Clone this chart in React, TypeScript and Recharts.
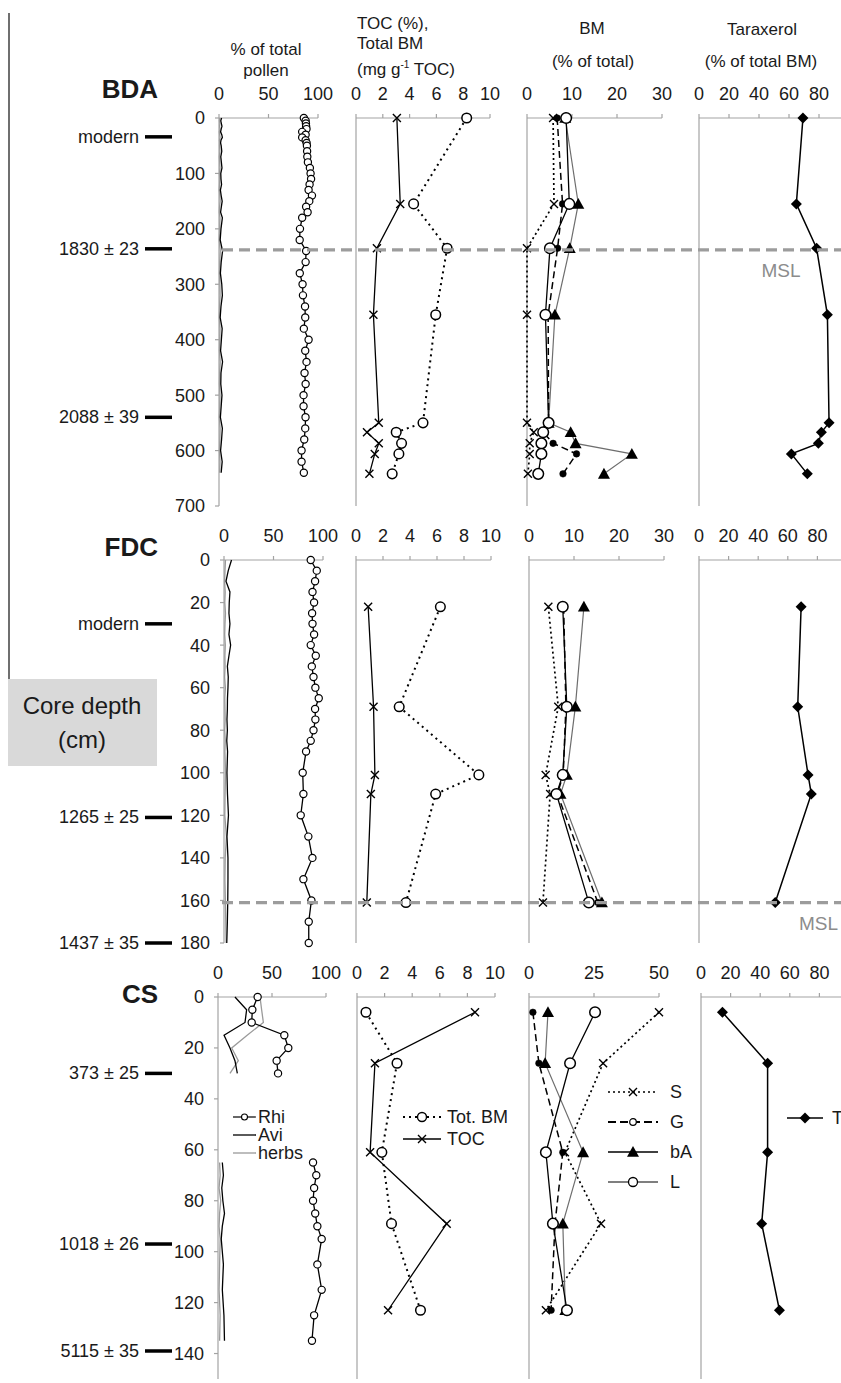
import React from 'react';
import { ScatterChart, Scatter, XAxis, YAxis, ReferenceLine } from 'recharts';

const FONT = '"Liberation Sans", Arial, Helvetica, sans-serif';
const AXIS = '#a3a3a3';
const INK = '#1a1a1a';

// ---------------- BDA ----------------
const BDA_POLLEN_DEPTH = [0, 5, 10, 15, 20, 25, 30, 35, 40, 45, 50, 60, 70, 80, 90, 100, 110, 120, 130, 140, 150, 160, 170, 180, 200, 220, 240, 260, 280, 300, 320, 340, 360, 380, 400, 420, 440, 460, 480, 500, 520, 540, 560, 580, 600, 620, 640];
const BDA_RHI = [85.7, 87.5, 87.8, 88.0, 88.4, 84.0, 87.5, 84.0, 87.5, 88.5, 88.8, 89.0, 89.2, 89.8, 91.8, 92.5, 93.0, 91.5, 90.5, 93.9, 91.2, 88.0, 89.5, 84.0, 81.8, 81.5, 88.0, 87.5, 81.6, 84.4, 84.8, 86.9, 87.1, 85.7, 90.5, 87.1, 88.4, 86.4, 87.5, 85.4, 85.4, 87.4, 87.1, 86.1, 83.4, 83.4, 85.7];
const BDA_AVI = [2.6, 1.8, 2.4, 3.0, 2.2, 1.6, 2.8, 3.4, 2.0, 1.6, 2.2, 2.8, 1.8, 2.4, 3.0, 1.8, 2.0, 2.6, 1.4, 2.2, 3.2, 2.4, 1.6, 3.4, 2.0, 1.2, 3.6, 2.2, 1.4, 2.8, 3.4, 2.0, 1.2, 3.2, 2.4, 1.6, 3.6, 2.0, 1.8, 3.0, 2.2, 1.4, 3.4, 2.6, 1.6, 3.2, 2.2];
const BDA_HERBS = [0.8, 0.5, 0.9, 0.6, 1.0, 0.4, 0.7, 1.1, 0.5, 0.8, 0.6, 0.9, 0.4, 0.7, 1.0, 0.5, 0.8, 0.6, 0.3, 0.9, 1.2, 0.6, 0.4, 1.0, 0.7, 0.3, 1.3, 0.8, 0.5, 0.9, 1.1, 0.6, 0.4, 1.0, 0.8, 0.5, 1.2, 0.7, 0.5, 1.0, 0.8, 0.4, 1.1, 0.9, 0.5, 1.0, 0.7];
const BDA_GEO_DEPTH = [0, 155, 235, 355, 550, 567, 587, 606, 642];
const BDA_TOC = [3.05, 3.3, 1.56, 1.3, 1.7, 0.82, 1.7, 1.4, 1.0];
const BDA_TOTBM = [8.26, 4.3, 6.8, 5.95, 5.0, 3.0, 3.4, 3.2, 2.7];
const BDA_S = [5.8, 6.0, 0, 0, 0, 1.5, 0.6, 0.6, 0.2];
const BDA_G = [6.7, 7.9, 6.8, 4.7, 4.8, 3.6, 5.8, 11.0, 8.0];
const BDA_BA = [8.5, 11.4, 9.5, 6.2, 4.8, 9.7, 10.8, 23.3, 17.1];
const BDA_L = [8.7, 9.4, 5.1, 4.1, 4.8, 3.6, 3.2, 3.2, 2.5];
const BDA_TARAX = [69.3, 64.9, 78.4, 85.6, 86.7, 81.6, 79.6, 61.6, 72.2];
const BDA_DATE_DEPTH = [34, 236, 540];
const BDA_DATE_LABEL = ['modern', '1830 ± 23', '2088 ± 39'];
const BDA_MSL = 238;
const BDA_DEPTH_TICKS = [0, 100, 200, 300, 400, 500, 600, 700];

// ---------------- FDC ----------------
const FDC_POLLEN_DEPTH = [0, 5, 10, 15, 20, 25, 30, 35, 40, 45, 50, 55, 60, 65, 70, 75, 80, 85, 90, 100, 110, 120, 130, 140, 150, 160, 170, 180];
const FDC_RHI = [87.6, 93.7, 92.0, 89.4, 91.0, 89.0, 89.4, 91.0, 87.6, 92.7, 88.7, 90.4, 92.3, 95.7, 92.0, 92.3, 90.4, 87.6, 82.9, 79.5, 80.2, 77.5, 85.2, 89.3, 80.2, 88.3, 85.6, 85.6];
const FDC_AVI = [7.6, 4.3, 2.0, 6.0, 5.3, 5.0, 6.0, 5.0, 6.7, 5.0, 3.4, 4.3, 4.0, 3.5, 3.4, 3.0, 3.4, 2.8, 3.6, 3.0, 3.5, 4.5, 3.0, 4.0, 4.0, 3.8, 3.4, 2.8];
const FDC_HERBS = [1.5, 1.0, 0.6, 1.2, 0.8, 1.5, 1.0, 0.7, 1.3, 0.9, 1.1, 0.6, 1.4, 0.8, 1.0, 1.2, 0.7, 1.3, 0.9, 1.6, 1.1, 0.8, 2.5, 1.2, 0.9, 1.4, 1.8, 2.2];
const FDC_GEO_DEPTH = [22, 69, 101, 110, 161];
const FDC_TOC = [0.9, 1.3, 1.4, 1.1, 0.8];
const FDC_TOTBM = [6.25, 3.2, 9.1, 5.9, 3.7];
const FDC_S = [4.3, 6.5, 3.7, 4.7, 3.1];
const FDC_G = [7.7, 8.2, 7.6, 6.3, 15.3];
const FDC_BA = [12.2, 10.3, 8.4, 7.0, 16.2];
const FDC_L = [7.5, 8.4, 7.5, 6.1, 13.3];
const FDC_TARAX = [69.0, 66.7, 73.7, 75.9, 51.5];
const FDC_DATE_DEPTH = [30, 121, 180];
const FDC_DATE_LABEL = ['modern', '1265 ± 25', '1437 ± 35'];
const FDC_MSL = 161;
const FDC_DEPTH_TICKS = [0, 20, 40, 60, 80, 100, 120, 140, 160, 180];

// ---------------- CS ----------------
const CS_POLLEN_DEPTH_UP = [0, 5, 10, 15, 20, 25, 30];
const CS_RHI_UP = [36.7, 31.8, 31.2, 61.4, 65.1, 54.3, 55.6];
const CS_AVI_UP = [15.7, 26.5, 25.0, 5.6, 11.1, 15.7, 17.9];
const CS_HERBS_UP = [38.9, 40.4, 42.0, 27.0, 12.7, 18.8, 11.1];
const CS_POLLEN_DEPTH_LOW = [65, 70, 75, 80, 85, 90, 95, 105, 115, 125, 135];
const CS_RHI_LOW = [88, 91, 89, 88, 90, 92, 96, 92, 96, 89, 87];
const CS_AVI_LOW = [4.0, 5.0, 3.5, 4.5, 6.0, 4.0, 3.0, 5.0, 4.0, 5.5, 6.0];
const CS_HERBS_LOW = [1.5, 2.0, 1.0, 2.5, 1.5, 1.0, 2.0, 1.5, 1.0, 2.0, 1.5];
const CS_GEO_DEPTH = [6, 26, 61, 89, 123];
const CS_TOC = [8.55, 1.3, 0.95, 6.5, 2.25];
const CS_TOTBM = [0.65, 2.9, 1.8, 2.5, 4.6];
const CS_S = [50, 28.5, 13.8, 27.7, 6.5];
const CS_G = [1.5, 3.8, 13.0, 10.0, 8.5];
const CS_BA = [7.3, 6.2, 20.8, 13.0, 14.0];
const CS_L = [25.4, 15.8, 6.5, 9.2, 14.6];
const CS_TARAX = [14.5, 45, 45, 41, 53];
const CS_DATE_DEPTH = [30, 97, 139];
const CS_DATE_LABEL = ['373 ± 25', '1018 ± 26', '5115 ± 35'];
const CS_DEPTH_TICKS = [0, 20, 40, 60, 80, 100, 120, 140];

// ---------------- value-axis ticks ----------------
const POLLEN_TICKS = [0, 50, 100];
const TOC_TICKS = [0, 2, 4, 6, 8, 10];
const BM30_TICKS = [0, 10, 20, 30];
const BM50_TICKS = [0, 25, 50];
const TARAX_TICKS = [0, 20, 40, 60, 80];

type Pt = { v: number; d: number };
const zip = (depths: number[], vals: (number | null)[]): Pt[] =>
  depths
    .map((d, i) => ({ d, v: vals[i] as number }))
    .filter((p) => p.v !== null && p.v !== undefined);

// ---------------- markers ----------------
const circ = (r: number, fill: string, sw = 1.3) => (p: any) =>
  <circle cx={p.cx} cy={p.cy} r={r} fill={fill} stroke="#000" strokeWidth={sw} />;
const cross = (s: number) => (p: any) =>
  <path d={`M${p.cx - s},${p.cy - s}L${p.cx + s},${p.cy + s}M${p.cx - s},${p.cy + s}L${p.cx + s},${p.cy - s}`} stroke="#000" strokeWidth={1.4} fill="none" />;
const tri = (s: number) => (p: any) =>
  <path d={`M${p.cx},${p.cy - s}L${p.cx + s},${p.cy + s * 0.8}L${p.cx - s},${p.cy + s * 0.8}Z`} fill="#000" />;
const diamond = (s: number) => (p: any) =>
  <path d={`M${p.cx},${p.cy - s}L${p.cx + s},${p.cy}L${p.cx},${p.cy + s}L${p.cx - s},${p.cy}Z`} fill="#000" />;
const none = () => <g />;

const M_RHI = circ(3.6, '#fff', 1.2);
const M_TOC = cross(4);
const M_TOTBM = circ(4.8, '#fff', 1.5);
const M_S = cross(4);
const M_G = circ(3.3, '#000', 0.5);
const M_GLEG = circ(3.3, '#fff', 1.2);
const M_BA = tri(6);
const M_L = circ(5.3, '#fff', 1.5);
const M_T = diamond(5.5);

const L_SOLID = { stroke: '#000', strokeWidth: 1.3 };
const L_GRAY = { stroke: '#9a9a9a', strokeWidth: 1.3 };
const L_DOT = { stroke: '#000', strokeWidth: 2, strokeDasharray: '2 4' };
const L_S = { stroke: '#000', strokeWidth: 1.7, strokeDasharray: '2 3' };
const L_G = { stroke: '#000', strokeWidth: 1.5, strokeDasharray: '7 4' };
const L_BA = { stroke: '#6e6e6e', strokeWidth: 1.2 };
const L_T = { stroke: '#000', strokeWidth: 1.5 };

type Series = { data: Pt[]; line: any; shape: any };
const ser = (depths: number[], vals: (number | null)[], line: any, shape: any): Series => ({ data: zip(depths, vals), line, shape });

type PanelProps = {
  x0: number; x1: number; y0: number; y1: number;
  xDomain: [number, number]; xTicks: number[];
  yDomain: [number, number]; yTicks: number[];
  showY?: boolean; series: Series[];
};

function Panel({ x0, x1, y0, y1, xDomain, xTicks, yDomain, yTicks, showY, series }: PanelProps) {
  const padL = 60, padT = 40, padR = 28, padB = 14;
  const w = x1 - x0, h = y1 - y0;
  return (
    <div style={{ position: 'absolute', left: x0 - padL, top: y0 - padT }}>
      <ScatterChart width={w + padL + padR} height={h + padT + padB} margin={{ top: 0, right: padR, bottom: padB, left: 0 }}>
        <XAxis type="number" dataKey="v" orientation="top" domain={xDomain} ticks={xTicks} interval={0}
          height={padT} axisLine={{ stroke: AXIS, strokeWidth: 1.2 }} tickLine={{ stroke: AXIS, strokeWidth: 1.2 }}
          tickSize={4} tickMargin={14} tick={{ fontSize: 18, fill: INK, fontFamily: FONT }} />
        <YAxis type="number" dataKey="d" domain={yDomain} ticks={yTicks} interval={0} reversed width={padL}
          axisLine={{ stroke: AXIS, strokeWidth: 1.2 }}
          tickLine={showY ? { stroke: AXIS, strokeWidth: 1.2 } : false}
          tickSize={4} tickMargin={10}
          tick={showY ? { fontSize: 18, fill: INK, fontFamily: FONT } : false} />
        {series.map((s, i) => (
          <Scatter key={i} data={s.data} line={s.line} lineJointType="linear" shape={s.shape} fill="none" isAnimationActive={false} />
        ))}
      </ScatterChart>
    </div>
  );
}

const DateMark = (p: any) => (
  <g>
    <line x1={p.cx - 27} x2={p.cx} y1={p.cy} y2={p.cy} stroke="#000" strokeWidth={3.5} />
    <text x={p.cx - 33} y={p.cy} textAnchor="end" dominantBaseline="central" fontSize={18} fontFamily={FONT} fill={INK}>
      {p.payload.label}
    </text>
  </g>
);

const BAR_END_X = 172;
const MSL_START_X = 222;
const PAGE_W = 841;

function RowOverlay({ y0, y1, yDomain, dateDepths, dateLabels, msl }: {
  y0: number; y1: number; yDomain: [number, number]; dateDepths: number[]; dateLabels: string[]; msl?: number;
}) {
  const pad = 20;
  const dates = dateDepths.map((d, i) => ({ x: BAR_END_X, d, label: dateLabels[i] }));
  return (
    <div style={{ position: 'absolute', left: 0, top: y0 - pad, pointerEvents: 'none' }}>
      <ScatterChart width={PAGE_W} height={y1 - y0 + 2 * pad} margin={{ top: pad, right: 0, bottom: pad, left: 0 }}>
        <XAxis type="number" dataKey="x" domain={[0, PAGE_W]} hide />
        <YAxis type="number" dataKey="d" domain={yDomain} reversed hide />
        <Scatter data={dates} shape={DateMark} isAnimationActive={false} />
        {msl !== undefined && (
          <ReferenceLine segment={[{ x: MSL_START_X, y: msl }, { x: PAGE_W, y: msl }]} stroke="#9c9c9c" strokeWidth={3.2} strokeDasharray="11 6" ifOverflow="visible" />
        )}
      </ScatterChart>
    </div>
  );
}

function Txt({ x, y, anchor = 'middle', size = 18, weight = 400, color = INK, children }: any) {
  const tx = anchor === 'middle' ? '-50%' : anchor === 'end' ? '-100%' : '0';
  return (
    <div style={{ position: 'absolute', left: x, top: y - size / 2, height: size, lineHeight: `${size}px`, fontSize: size, fontWeight: weight, color, whiteSpace: 'nowrap', transform: `translateX(${tx})`, fontFamily: FONT }}>
      {children}
    </div>
  );
}

function LegendItem({ x, y, w, line, marker, label, gap }: any) {
  return (
    <div style={{ position: 'absolute', left: x, top: y - 8, height: 16, display: 'flex', alignItems: 'center', whiteSpace: 'nowrap', fontFamily: FONT }}>
      <svg width={w} height={16} style={{ overflow: 'visible' }}>
        <line x1={0} x2={w} y1={8} y2={8} {...line} />
        {marker ? marker({ cx: w / 2, cy: 8 }) : null}
      </svg>
      <span style={{ fontSize: 18, marginLeft: gap, color: INK, lineHeight: '16px' }}>{label}</span>
    </div>
  );
}

// row geometry
const BDA_Y = [118, 506];
const FDC_Y = [560, 943];
const CS_Y = [997, 1379];

export default function App() {
  const bdaDom: [number, number] = [0, 700];
  const fdcDom: [number, number] = [0, 180];
  const csDom: [number, number] = [0, 150];
  return (
    <div style={{ position: 'absolute', left: 0, top: 0, width: PAGE_W, height: 1383, overflow: 'hidden', background: '#fff', fontFamily: FONT }}>
      {/* frame line and core-depth box */}
      <div style={{ position: 'absolute', left: 8, top: 13, width: 1.5, height: 666, background: '#6f6f6f' }} />
      <div style={{ position: 'absolute', left: 8, top: 679, width: 149, height: 87, background: '#d9d9d9' }} />
      <Txt x={82} y={706} size={24}>Core depth</Txt>
      <Txt x={82} y={740} size={24}>(cm)</Txt>

      {/* headers */}
      <Txt x={266} y={49} size={17}>% of total</Txt>
      <Txt x={266} y={70} size={17}>pollen</Txt>
      <Txt x={357} y={23} size={17} anchor="start">TOC (%),</Txt>
      <Txt x={357} y={43} size={17} anchor="start">Total BM</Txt>
      <Txt x={357} y={64} size={17} anchor="start">(mg g<sup style={{ fontSize: 10 }}>-1</sup> TOC)</Txt>
      <Txt x={592} y={28} size={17}>BM</Txt>
      <Txt x={593} y={61} size={17}>(% of total)</Txt>
      <Txt x={762} y={29} size={17}>Taraxerol</Txt>
      <Txt x={761} y={61} size={17}>(% of total BM)</Txt>

      <Txt x={158} y={89} size={26} weight={700} anchor="end">BDA</Txt>
      <Txt x={158} y={547} size={26} weight={700} anchor="end">FDC</Txt>
      <Txt x={158} y={994} size={26} weight={700} anchor="end">CS</Txt>

      {/* BDA */}
      <Panel x0={219} x1={318} y0={BDA_Y[0]} y1={BDA_Y[1]} xDomain={[0, 100]} xTicks={POLLEN_TICKS} yDomain={bdaDom} yTicks={BDA_DEPTH_TICKS} showY
        series={[ser(BDA_POLLEN_DEPTH, BDA_HERBS, L_GRAY, none), ser(BDA_POLLEN_DEPTH, BDA_AVI, L_SOLID, none), ser(BDA_POLLEN_DEPTH, BDA_RHI, L_SOLID, M_RHI)]} />
      <Panel x0={356} x1={490} y0={BDA_Y[0]} y1={BDA_Y[1]} xDomain={[0, 10]} xTicks={TOC_TICKS} yDomain={bdaDom} yTicks={BDA_DEPTH_TICKS}
        series={[ser(BDA_GEO_DEPTH, BDA_TOTBM, L_DOT, M_TOTBM), ser(BDA_GEO_DEPTH, BDA_TOC, L_SOLID, M_TOC)]} />
      <Panel x0={527} x1={662} y0={BDA_Y[0]} y1={BDA_Y[1]} xDomain={[0, 30]} xTicks={BM30_TICKS} yDomain={bdaDom} yTicks={BDA_DEPTH_TICKS}
        series={[ser(BDA_GEO_DEPTH, BDA_S, L_S, M_S), ser(BDA_GEO_DEPTH, BDA_BA, L_BA, M_BA), ser(BDA_GEO_DEPTH, BDA_G, L_G, M_G), ser(BDA_GEO_DEPTH, BDA_L, L_SOLID, M_L)]} />
      <Panel x0={699} x1={849} y0={BDA_Y[0]} y1={BDA_Y[1]} xDomain={[0, 100]} xTicks={TARAX_TICKS} yDomain={bdaDom} yTicks={BDA_DEPTH_TICKS}
        series={[ser(BDA_GEO_DEPTH, BDA_TARAX, L_T, M_T)]} />
      <RowOverlay y0={BDA_Y[0]} y1={BDA_Y[1]} yDomain={bdaDom} dateDepths={BDA_DATE_DEPTH} dateLabels={BDA_DATE_LABEL} msl={BDA_MSL} />
      <Txt x={781} y={270} size={19} color="#8c8c8c">MSL</Txt>

      {/* FDC */}
      <Panel x0={224} x1={323} y0={FDC_Y[0]} y1={FDC_Y[1]} xDomain={[0, 100]} xTicks={POLLEN_TICKS} yDomain={fdcDom} yTicks={FDC_DEPTH_TICKS} showY
        series={[ser(FDC_POLLEN_DEPTH, FDC_HERBS, L_GRAY, none), ser(FDC_POLLEN_DEPTH, FDC_AVI, L_SOLID, none), ser(FDC_POLLEN_DEPTH, FDC_RHI, L_SOLID, M_RHI)]} />
      <Panel x0={356} x1={491} y0={FDC_Y[0]} y1={FDC_Y[1]} xDomain={[0, 10]} xTicks={TOC_TICKS} yDomain={fdcDom} yTicks={FDC_DEPTH_TICKS}
        series={[ser(FDC_GEO_DEPTH, FDC_TOTBM, L_DOT, M_TOTBM), ser(FDC_GEO_DEPTH, FDC_TOC, L_SOLID, M_TOC)]} />
      <Panel x0={529} x1={664} y0={FDC_Y[0]} y1={FDC_Y[1]} xDomain={[0, 30]} xTicks={BM30_TICKS} yDomain={fdcDom} yTicks={FDC_DEPTH_TICKS}
        series={[ser(FDC_GEO_DEPTH, FDC_S, L_S, M_S), ser(FDC_GEO_DEPTH, FDC_BA, L_BA, M_BA), ser(FDC_GEO_DEPTH, FDC_G, L_G, M_G), ser(FDC_GEO_DEPTH, FDC_L, L_SOLID, M_L)]} />
      <Panel x0={699} x1={847} y0={FDC_Y[0]} y1={FDC_Y[1]} xDomain={[0, 100]} xTicks={TARAX_TICKS} yDomain={fdcDom} yTicks={FDC_DEPTH_TICKS}
        series={[ser(FDC_GEO_DEPTH, FDC_TARAX, L_T, M_T)]} />
      <RowOverlay y0={FDC_Y[0]} y1={FDC_Y[1]} yDomain={fdcDom} dateDepths={FDC_DATE_DEPTH} dateLabels={FDC_DATE_LABEL} msl={FDC_MSL} />
      <Txt x={838} y={923} size={19} color="#8c8c8c" anchor="end">MSL</Txt>

      {/* CS */}
      <Panel x0={218} x1={326} y0={CS_Y[0]} y1={CS_Y[1]} xDomain={[0, 100]} xTicks={POLLEN_TICKS} yDomain={csDom} yTicks={CS_DEPTH_TICKS} showY
        series={[
          ser(CS_POLLEN_DEPTH_UP, CS_HERBS_UP, L_GRAY, none), ser(CS_POLLEN_DEPTH_UP, CS_AVI_UP, L_SOLID, none), ser(CS_POLLEN_DEPTH_UP, CS_RHI_UP, L_SOLID, M_RHI),
          ser(CS_POLLEN_DEPTH_LOW, CS_HERBS_LOW, L_GRAY, none), ser(CS_POLLEN_DEPTH_LOW, CS_AVI_LOW, L_SOLID, none), ser(CS_POLLEN_DEPTH_LOW, CS_RHI_LOW, L_SOLID, M_RHI),
        ]} />
      <Panel x0={357} x1={495} y0={CS_Y[0]} y1={CS_Y[1]} xDomain={[0, 10]} xTicks={TOC_TICKS} yDomain={csDom} yTicks={CS_DEPTH_TICKS}
        series={[ser(CS_GEO_DEPTH, CS_TOTBM, L_DOT, M_TOTBM), ser(CS_GEO_DEPTH, CS_TOC, L_SOLID, M_TOC)]} />
      <Panel x0={529} x1={659} y0={CS_Y[0]} y1={CS_Y[1]} xDomain={[0, 50]} xTicks={BM50_TICKS} yDomain={csDom} yTicks={CS_DEPTH_TICKS}
        series={[ser(CS_GEO_DEPTH, CS_S, L_S, M_S), ser(CS_GEO_DEPTH, CS_BA, L_BA, M_BA), ser(CS_GEO_DEPTH, CS_G, L_G, M_G), ser(CS_GEO_DEPTH, CS_L, L_SOLID, M_L)]} />
      <Panel x0={701} x1={849} y0={CS_Y[0]} y1={CS_Y[1]} xDomain={[0, 100]} xTicks={TARAX_TICKS} yDomain={csDom} yTicks={CS_DEPTH_TICKS}
        series={[ser(CS_GEO_DEPTH, CS_TARAX, L_T, M_T)]} />
      <RowOverlay y0={CS_Y[0]} y1={CS_Y[1]} yDomain={csDom} dateDepths={CS_DATE_DEPTH} dateLabels={CS_DATE_LABEL} />

      {/* legends */}
      <LegendItem x={233} y={1117} w={23} line={{ stroke: '#000', strokeWidth: 1.2 }} marker={circ(3, '#fff', 1.1)} label="Rhi" gap={2} />
      <LegendItem x={233} y={1135} w={23} line={{ stroke: '#000', strokeWidth: 1.3 }} label="Avi" gap={2} />
      <LegendItem x={233} y={1153} w={23} line={{ stroke: '#9a9a9a', strokeWidth: 1.3 }} label="herbs" gap={2} />

      <LegendItem x={403} y={1117} w={38} line={L_DOT} marker={circ(4.5, '#fff', 1.4)} label="Tot. BM" gap={6} />
      <LegendItem x={403} y={1139} w={38} line={L_SOLID} marker={M_TOC} label="TOC" gap={6} />

      <LegendItem x={608} y={1092} w={50} line={L_S} marker={M_S} label="S" gap={12} />
      <LegendItem x={608} y={1122} w={50} line={{ stroke: '#000', strokeWidth: 2, strokeDasharray: '8 4' }} marker={M_GLEG} label="G" gap={12} />
      <LegendItem x={608} y={1152} w={50} line={{ stroke: '#000', strokeWidth: 1.6 }} marker={tri(6)} label="bA" gap={12} />
      <LegendItem x={608} y={1182} w={50} line={{ stroke: '#000', strokeWidth: 1.2 }} marker={circ(4.5, '#fff', 1.3)} label="L" gap={12} />

      <LegendItem x={787} y={1118} w={36} line={L_T} marker={M_T} label="Taraxerol" gap={9} />
    </div>
  );
}
